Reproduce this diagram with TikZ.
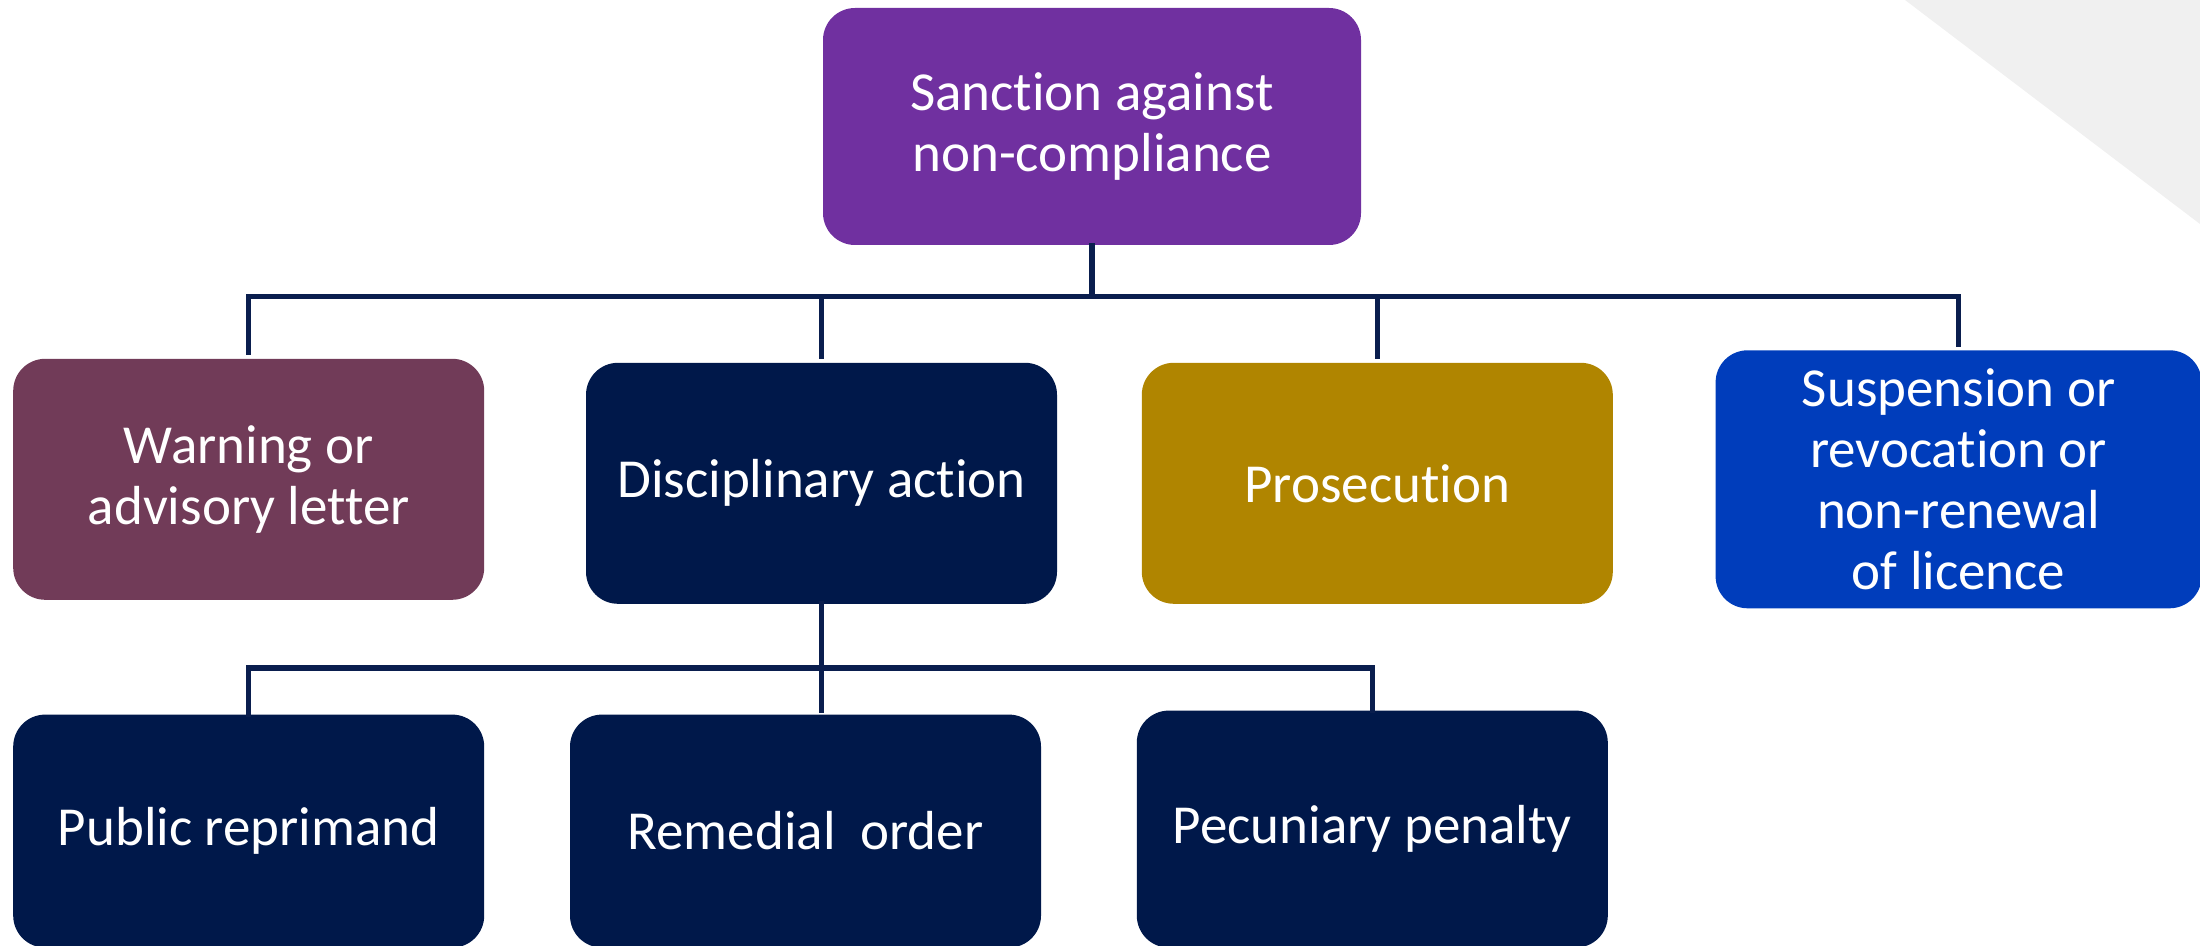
\documentclass[tikz,border=0pt]{standalone}
\usepackage{fontspec}
\setmainfont{Carlito}[Ligatures=NoCommon]
\usetikzlibrary{positioning}
\tikzset{%
  box/.style={
    rectangle,
    rounded corners=16pt,
    text=white,
    align=center,
    inner sep=0pt,
    minimum width=235.5pt,
    minimum height=120.5pt,
    font=\fontsize{27.5pt}{30.5pt}\selectfont
  },
  link/.style={
    draw=linknavy,
    line width=2.75pt,
    line cap=rect
  }
}
\definecolor{sanctionpurple}{HTML}{7030A0}
\definecolor{warnplum}{HTML}{713B58}
\definecolor{discnavy}{HTML}{00184A}
\definecolor{prosgold}{HTML}{B08500}
\definecolor{suspblue}{HTML}{003DBB}
\definecolor{linknavy}{HTML}{0A1E4E}
\definecolor{cornergrey}{HTML}{F0F0F0}

\begin{document}
\begin{tikzpicture}[x=0.5pt, y=-0.5pt]
		\useasboundingbox (0,0) rectangle (2200,946);
		\fill[cornergrey] (1905,0) -- (2200,0) -- (2200,224) -- cycle;
		% top
		\node[box, fill=sanctionpurple, minimum width=269pt, minimum height=118.5pt] (root) at (1092,126.5) {Sanction against\\non-compliance};
		% first level
		\node[box, fill=discnavy, below=58.5pt of root, xshift=-135.25pt] (disc) {Disciplinary action};
		\node[box, fill=warnplum, left=50.5pt of disc, yshift=2pt] (warn) {Warning or\\advisory letter};
		\node[box, fill=prosgold, right=42pt of disc] (pros) {Prosecution};
		\node[box, fill=suspblue, minimum width=243pt, minimum height=129pt, right=51pt of pros, yshift=2pt] (susp) {Suspension or\\revocation or\\non-renewal\\of licence};
		% second level
		\node[box, fill=discnavy, minimum height=116.5pt, below=55pt of disc, xshift=-8pt] (rem) {Remedial\ \ order};
		\node[box, fill=discnavy, minimum height=116.5pt, left=42.5pt of rem] (pub) {Public reprimand};
		\node[box, fill=discnavy, minimum height=118.5pt, right=47.5pt of rem, yshift=1pt] (pec) {Pecuniary penalty};
		% top connections
		\draw[link] (root.south) -- ++(0,51) coordinate (bus1);
		\draw[link] (bus1 -| warn.north) -- (bus1 -| susp.north);
		\draw[link, shorten >=3pt] (bus1 -| warn.north) -- (warn.north);
		\draw[link, shorten >=3pt] (bus1 -| disc.north) -- (disc.north);
		\draw[link, shorten >=3pt] (bus1 -| pros.north) -- (pros.north);
		\draw[link, shorten >=3pt] (bus1 -| susp.north) -- (susp.north);
		% disciplinary connections
		\draw[link] (disc.south) -- ++(0,64) coordinate (bus2);
		\draw[link, shorten >=2pt] (bus2) -- (disc.south |- rem.north);
		\draw[link] (bus2 -| pub.north) -- (bus2 -| pec.north);
		\draw[link] (bus2 -| pub.north) -- (pub.north);
		\draw[link] (bus2 -| pec.north) -- (pec.north);
\end{tikzpicture}
\end{document}
